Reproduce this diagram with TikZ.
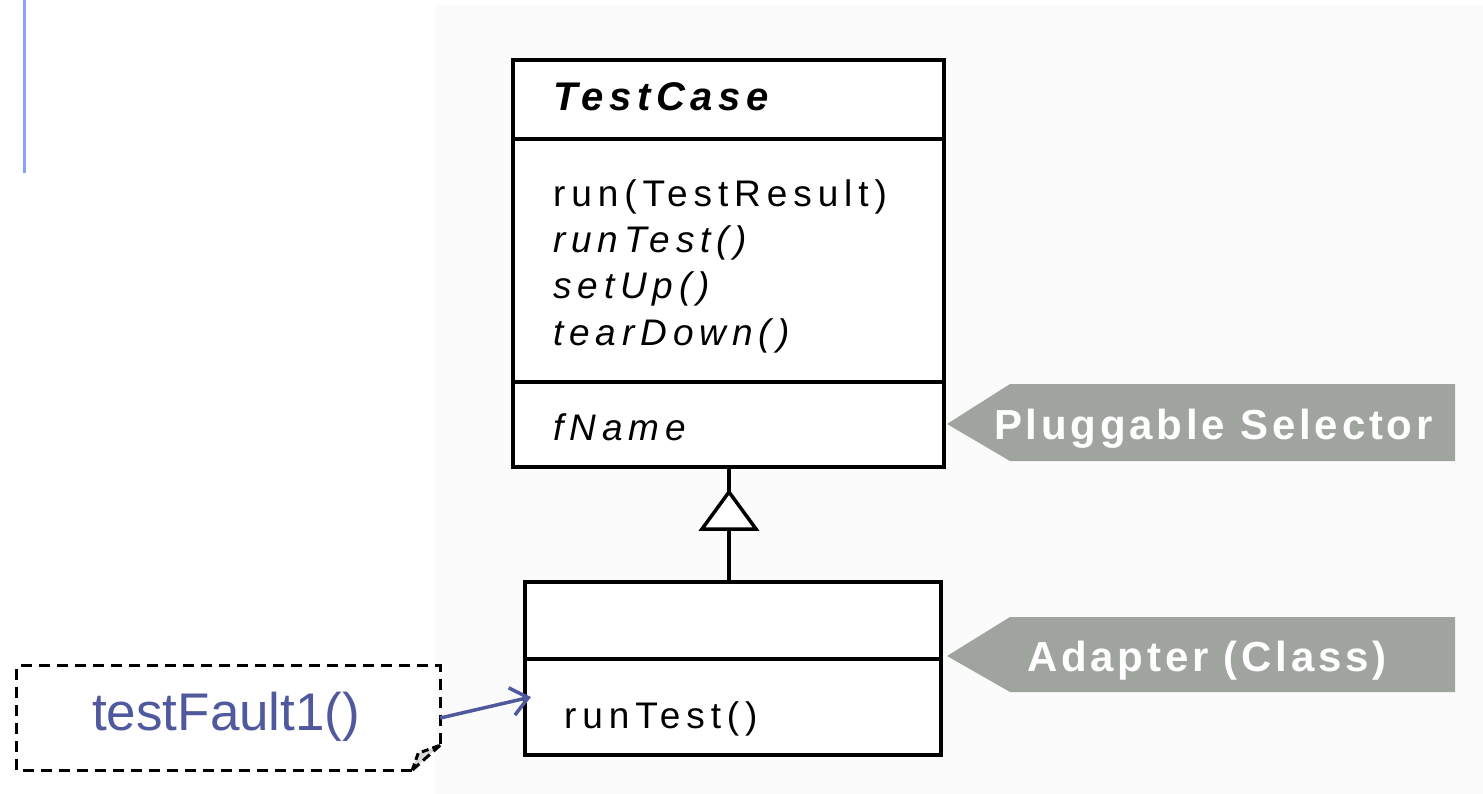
\documentclass[tikz,border=0pt]{standalone}
\usepackage{fontspec}
\setmainfont{Liberation Sans}
\newfontfamily\memberfont[LetterSpace=16]{Liberation Sans}
\newfontfamily\classfont[LetterSpace=14]{Liberation Sans}
\newfontfamily\tagfont[LetterSpace=9]{Liberation Sans}
\usetikzlibrary{arrows.meta}
\definecolor{panelbg}{RGB}{251,251,251}
\definecolor{tagfill}{RGB}{160,164,159}
\definecolor{noteblue}{RGB}{80,88,158}
\definecolor{sidebar}{RGB}{136,160,255}
\tikzset{
  classbox/.style={draw=black, line width=3.5pt, fill=white, inner sep=0pt},
  compline/.style={line width=3.5pt},
  member/.style={anchor=base west, inner sep=0pt, font=\memberfont\fontsize{37}{44}\selectfont},
  classname/.style={anchor=base west, inner sep=0pt, font=\classfont\fontsize{40}{46}\selectfont\bfseries\itshape},
  tagshape/.style={fill=tagfill},
  tagtext/.style={anchor=base west, inner sep=0pt, text=white, font=\tagfont\fontsize{42}{48}\selectfont\bfseries},
  notebox/.style={inner sep=0pt, minimum width=423pt, minimum height=104pt},
  noteline/.style={line width=3pt, dash pattern=on 11pt off 7pt},
  notetext/.style={anchor=base west, inner sep=0pt, text=noteblue, font=\fontsize{53}{60}\selectfont},
  callarrow/.style={draw=noteblue, line width=3.5pt, -{Straight Barb[length=17pt,width=28pt,line width=3.5pt]}},
  inherit/.style={line width=3.5pt}
}
\begin{document}
\begin{tikzpicture}[x=1pt,y=-1pt]
\useasboundingbox (0,0) rectangle (1483,794);
% backdrop of the diagram area
\fill[panelbg] (435,5) rectangle (1483,794);
% slide side rule
\draw[sidebar, line width=2.5pt] (24.5,0) -- (24.5,173);

% superclass TestCase
\node[classbox, minimum width=431pt, minimum height=407pt] (tc) at (728.5,263.5) {};
\draw[compline] (tc.west |- 0,139) -- (tc.east |- 0,139);
\draw[compline] (tc.west |- 0,382) -- (tc.east |- 0,382);
\node[classname] (tcname) at (553,111) {TestCase};
\node[member] (mrun) at (553,207) {run(TestResult)};
\node[member] (mrt) at (553,253) {\itshape runTest()};
\node[member] (msu) at (553,299) {\itshape setUp()};
\node[member] (mtd) at (553,345) {\itshape tearDown()};
\node[member] (fname) at (553,440) {\itshape fName};

% adapter subclass
\node[classbox, minimum width=416pt, minimum height=173pt] (sub) at (733,668.5) {};
\draw[compline] (sub.west |- 0,659) -- (sub.east |- 0,659);
\node[member] (subrt) at (564,728) {runTest()};

% generalization
\coordinate (apex) at (729,492);
\coordinate (tbase) at (729,529);
\draw[inherit] (apex) -- (tc.south -| apex);
\draw[inherit] (tbase) -- (sub.north -| tbase);
\draw[inherit, fill=white, line join=miter] (apex) -- ++(-27,37) -- ++(54,0) -- cycle;

% pattern tags
\fill[tagshape] (947,424) -- (1010,384) -- (1455,384) -- (1455,461) -- (1010,461) -- cycle;
\node[tagtext] (tagps) at (994,439) {Pluggable Selector};
\fill[tagshape] (947,656) -- (1010,617) -- (1455,617) -- (1455,692) -- (1010,692) -- cycle;
\node[tagtext] (tagad) at (1027,671) {Adapter (Class)};

% note with folded corner
\node[notebox] (note) at (228.5,718) {};
\draw[noteline] ([xshift=-28pt]note.south east) -- (note.south west) -- (note.north west) -- (note.north east) -- ([yshift=25pt]note.south east);
\fill[black!15] ([xshift=-28pt]note.south east) -- ([xshift=-22pt,yshift=17pt]note.south east) -- ([yshift=25pt]note.south east) -- cycle;
\draw[noteline, dash pattern=on 7pt off 4pt] ([xshift=-28pt]note.south east) -- ([xshift=-22pt,yshift=17pt]note.south east) -- ([yshift=25pt]note.south east);
\draw[noteline, dash pattern=on 9pt off 5pt] ([yshift=25pt]note.south east) -- ([xshift=-28pt]note.south east);
\node[notetext] (notelbl) at (92,730) {testFault1()};
\coordinate (callend) at (531,697);
\draw[callarrow] (note.east) -- (callend);
\end{tikzpicture}
\end{document}
